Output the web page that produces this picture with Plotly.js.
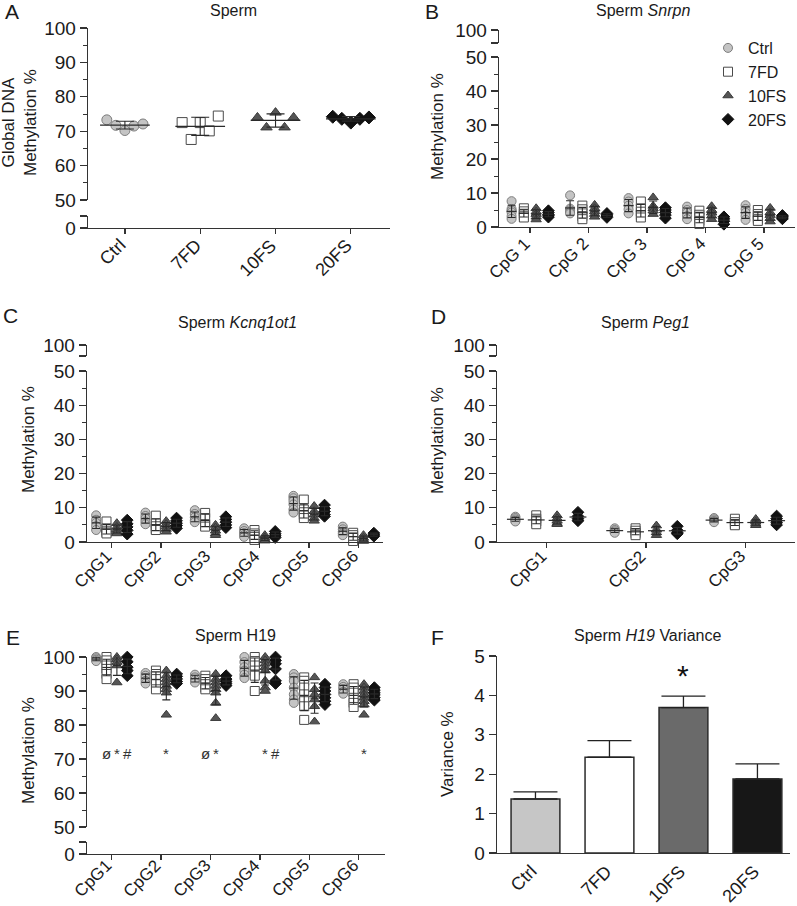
<!DOCTYPE html>
<html><head><meta charset="utf-8">
<script src="https://cdn.plot.ly/plotly-3.0.1.min.js"></script>
<style>html,body{margin:0;padding:0;background:#fff}#chart{width:797px;height:906px}</style>
</head><body><div id="chart"></div>
<script>
// ---------- DATA ----------
const groups = ['Ctrl', '7FD', '10FS', '20FS'];

// A: global DNA methylation (%)
const globalCtrl = [73.3, 71.7, 70.2, 71.5, 72.1];
const global7FD  = [72.5, 67.6, 72.5, 70.1, 74.4];
const global10FS = [74.0, 71.1, 75.4, 71.1, 74.0];
const global20FS = [74.2, 73.6, 72.5, 73.6, 74.0];

// B: Snrpn
const snrpnSites = ['CpG 1', 'CpG 2', 'CpG 3', 'CpG 4', 'CpG 5'];
const snrpnCtrl = [[7.6,5.3,4.8,4.3,3.2,2.4],[9.3,5.4,4.9,4.4,4.0],[8.5,7.5,6.3,5.2,4.0],[6.0,5.0,4.2,3.2,2.3],[6.4,5.3,4.2,3.2,2.1]];
const snrpn7FD  = [[5.5,4.6,3.9,3.3,2.8],[6.3,5.2,4.0,3.2,2.3],[7.5,5.5,4.5,3.5,2.8],[4.8,3.6,2.8,1.8,0.9],[5.0,3.8,3.0,2.4,1.8]];
const snrpn10FS = [[5.5,4.5,3.8,3.0,2.2],[6.5,5.5,4.6,3.8,3.0],[8.7,6.2,5.5,4.8,3.8],[6.1,5.0,4.2,3.3,2.3],[5.6,4.3,3.5,2.6,1.6]];
const snrpn20FS = [[4.8,4.2,3.7,3.3,2.9],[4.0,3.6,3.2,2.8],[5.7,5.0,4.3,3.5,2.6],[3.0,2.4,1.7,0.8],[3.4,3.0,2.7,2.4]];

// C: Kcnq1ot1
const kcnqSites = ['CpG1', 'CpG2', 'CpG3', 'CpG4', 'CpG5', 'CpG6'];
const kcnqCtrl = [[7.8,6.5,5.6,4.6,3.5],[8.6,7.6,6.8,6.0,5.2],[9.3,8.2,7.2,6.3,5.8],[4.0,3.2,2.6,2.0,1.5],[13.5,12.8,12.0,11.0,9.5,8.6],[4.5,3.7,3.0,2.5,2.0]];
const kcnq7FD  = [[6.0,4.0,3.3,2.8,2.5],[7.7,5.5,4.6,3.8,3.5],[8.5,7.0,5.2,4.5],[3.5,2.5,1.5,0.6],[12.4,9.5,8.7,7.9,7.0],[2.7,2.0,1.2,0.3]];
const kcnq10FS = [[5.5,4.4,3.6,3.0,2.5],[6.1,5.2,4.5,3.8,3.0],[5.0,4.2,3.3,2.5,2.0],[2.0,1.3,0.8,0.4],[10.5,9.0,8.0,7.0,6.2],[2.0,1.2,0.6,0.3]];
const kcnq20FS = [[6.4,5.3,4.4,3.4,2.3],[7.0,6.2,5.5,4.8,4.0],[7.4,6.6,5.8,5.0,4.2],[3.1,2.4,1.8,1.3],[10.8,9.8,8.9,8.0,7.5],[2.6,2.1,1.7]];

// D: Peg1
const pegSites = ['CpG1', 'CpG2', 'CpG3'];
const pegCtrl = [[7.4,7.0,6.6,6.2,6.0],[4.0,3.5,3.1,2.7],[7.0,6.6,6.2,5.8]];
const peg7FD  = [[7.8,6.8,6.0,5.2],[4.0,3.3,2.6,2.0],[6.8,5.8,5.2,4.9]];
const peg10FS = [[7.8,6.9,6.2,5.5,5.2],[4.8,3.6,2.8,2.0],[6.7,5.9,5.3,4.9]];
const peg20FS = [[8.7,7.5,6.8,6.2],[4.6,3.4,2.7,2.4],[7.6,6.8,6.2,5.6,5.0]];

// E: H19
const h19Sites = ['CpG1', 'CpG2', 'CpG3', 'CpG4', 'CpG5', 'CpG6'];
const h19Ctrl = [[100,99.6,99.2,98.8],[95.3,94.5,93.8,93.0,92.2],[94.8,94,93.2,92.5],[100,98.5,97,96,94.8,93.8],[95,94,93,91,89,87.5,86.5],[92,91.2,90.5,89.8,89.2]];
const h19_7FD = [[100,99,97.5,96.5,95,93.5],[96,95,93.5,92,90.5],[94.5,93.5,92,91,90.5],[100,98.8,97.5,96,94.5,90],[94,93,91,89,87,85.5,81.5],[92,91,89.5,88,86.5,85.3]];
const h19_10FS = [[100,99.3,98.5,97.5,92.5],[96,94.5,93.5,92.5,91.5,90.5,89.5,83],[95,93.5,92.5,91.5,90.5,89.5,86.5,82],[100,99,98,97,96,93,91,90],[94,90.5,89,87.5,85.5,81],[92,91,90,89,88,87,86,83]];
const h19_20FS = [[100,98.6,97,96,94.5],[95,94.3,93.5,92.8,92.2],[94.5,93.5,92.8,92.2,91.6],[100,99,98,96.5,93,92.2],[92,91,90,89,88,87,86],[91,90.2,89.5,88.8,88,87.3]];
// significance marks in E
const sigSite  = [0, 0, 0, 1, 2, 2, 3, 3, 5];
const sigGroup = ['7FD', '10FS', '20FS', '10FS', '7FD', '10FS', '10FS', '20FS', '10FS'];
const sigMark  = ['ø', '*', '#', '*', 'ø', '*', '*', '#', '*'];
const sigLevel = 71.5;

// F: H19 variance
const varMean = [1.37, 2.43, 3.69, 1.88];
const varErr  = [0.18, 0.42, 0.29, 0.38];
const varSig  = ['', '', '*', ''];

// ---------- STYLE ----------
const W = 797, H = 906;
const px = v => v / W, py = v => 1 - v / H;
const FONT = 'Liberation Sans, Arial, Helvetica, sans-serif';
const AX = '#333';
const TXT = '#1a1a1a';
const style = {
  'Ctrl': {symbol: 'circle', color: '#c4c4c4', line: '#7d7d7d'},
  '7FD':  {symbol: 'square', color: '#ffffff', line: '#4a4a4a'},
  '10FS': {symbol: 'triangle-up', color: '#555555', line: '#3a3a3a'},
  '20FS': {symbol: 'diamond', color: '#111111', line: '#111111'}
};
const barColors = ['#c6c6c6', '#ffffff', '#6a6a6a', '#171717'];
const offsets = [-0.315, -0.105, 0.105, 0.315];
const jitterA = [-0.24, -0.12, 0, 0.12, 0.24];

const mean = a => a.reduce((s, v) => s + v, 0) / a.length;
const sd = a => { const m = mean(a); return Math.sqrt(a.reduce((s, v) => s + (v - m) * (v - m), 0) / (a.length - 1)); };

const traces = [];

function markerOf(g, size) {
  const s = style[g];
  return {symbol: s.symbol, size: size, color: s.color, line: {color: s.line, width: 1}};
}

function meanTrace(xs, ys, sds, xa, ya, half, cap) {
  return {
    type: 'scatter', mode: 'markers', x: xs, y: ys, xaxis: xa, yaxis: ya,
    marker: {size: 1, color: 'rgba(0,0,0,0)'}, showlegend: false, hoverinfo: 'skip', cliponaxis: false,
    error_x: {type: 'constant', value: half, width: 0, thickness: 1.2, color: '#2a2a2a'},
    error_y: {type: 'data', array: sds, width: cap, thickness: 1.1, color: '#2a2a2a'}
  };
}

// Panel A
[globalCtrl, global7FD, global10FS, global20FS].forEach((vals, gi) => {
  const g = groups[gi];
  traces.push({
    type: 'scatter', mode: 'markers', xaxis: 'x', yaxis: 'y',
    x: vals.map((v, j) => gi + jitterA[j]), y: vals,
    marker: markerOf(g, 10), showlegend: false, cliponaxis: false, name: g
  });
});
[globalCtrl, global7FD, global10FS, global20FS].forEach((vals, gi) => {
  traces.push(meanTrace([gi], [mean(vals)], [sd(vals)], 'x', 'y', 0.33, 9));
});

// Site panels
function sitePanel(sets, xa, ya, legend, msize) {
  sets.forEach((perSite, gi) => {
    const g = groups[gi];
    const xs = [], ys = [];
    perSite.forEach((vals, si) => vals.forEach(v => { xs.push(si + offsets[gi]); ys.push(v); }));
    traces.push({
      type: 'scatter', mode: 'markers', xaxis: xa, yaxis: ya, x: xs, y: ys, name: g,
      marker: markerOf(g, msize), showlegend: legend, cliponaxis: false
    });
  });
  sets.forEach((perSite, gi) => {
    traces.push(meanTrace(perSite.map((_, si) => si + offsets[gi]), perSite.map(mean), perSite.map(sd), xa, ya, 0.085, 4));
  });
}
sitePanel([snrpnCtrl, snrpn7FD, snrpn10FS, snrpn20FS], 'x2', 'y3', true, 9);
sitePanel([kcnqCtrl, kcnq7FD, kcnq10FS, kcnq20FS], 'x3', 'y5', false, 9);
sitePanel([pegCtrl, peg7FD, peg10FS, peg20FS], 'x4', 'y7', false, 9);
sitePanel([h19Ctrl, h19_7FD, h19_10FS, h19_20FS], 'x5', 'y9', false, 9);

// Panel F
traces.push({
  type: 'bar', x: groups.map((_, i) => i), y: varMean, xaxis: 'x6', yaxis: 'y11', width: 0.66,
  marker: {color: barColors, line: {color: '#2b2b2b', width: 1.5}}, showlegend: false,
  error_y: {type: 'data', symmetric: false, array: varErr, arrayminus: varErr.map(() => 0), width: 22, thickness: 1.3, color: '#222'}
});

// empty placeholders so that the short broken-axis segments get registered
[['x', 'y2'], ['x2', 'y4'], ['x3', 'y6'], ['x4', 'y8'], ['x5', 'y10']].forEach(([xa, ya]) => {
  traces.push({type: 'scatter', mode: 'markers', x: [null], y: [null], xaxis: xa, yaxis: ya,
    marker: {size: 1, color: 'rgba(0,0,0,0)'}, showlegend: false, hoverinfo: 'skip'});
});

// ---------- AXES ----------
const YTICKF = {size: 19, color: TXT, family: FONT};
function xAxis(domain, range, labels, anchor, extra) {
  return Object.assign({
    domain: domain, range: range, anchor: anchor, tickmode: 'array',
    tickvals: labels.map((_, i) => i), ticktext: labels, showticklabels: false,
    showline: true, linecolor: AX, linewidth: 1.3, ticks: 'outside', ticklen: 5, tickcolor: AX, tickwidth: 1.3,
    zeroline: false, showgrid: false, fixedrange: true
  }, extra || {});
}
function yAxis(domain, range, anchor, extra) {
  return Object.assign({
    domain: domain, range: range, anchor: anchor,
    showline: true, linecolor: AX, linewidth: 1.3, ticks: 'outside', ticklen: 7, tickcolor: AX, tickwidth: 1.3,
    zeroline: false, showgrid: false, tickfont: YTICKF, fixedrange: true
  }, extra || {});
}
const minor5 = {ticks: 'outside', ticklen: 4, dtick: 5, tickcolor: AX, tickwidth: 1};
const linear = (t0, dt) => ({tickmode: 'linear', tick0: t0, dtick: dt});
const capLow = {tickmode: 'array', tickvals: [0, 5], ticktext: ['0', '']};
const capHigh = {tickmode: 'array', tickvals: [95, 100], ticktext: ['', '100']};

const layout = {
  width: W, height: H, autosize: false, margin: {l: 0, r: 0, t: 0, b: 0},
  paper_bgcolor: '#fff', plot_bgcolor: 'rgba(0,0,0,0)',
  font: {family: FONT, color: TXT, size: 16},
  // A
  xaxis:  xAxis([px(88), px(390)], [-0.49, 3.52], groups, 'y2'),
  yaxis:  yAxis([py(200), py(28)], [50, 100], 'x', Object.assign(linear(50, 10), {minor: minor5})),
  yaxis2: yAxis([py(228), py(216)], [0, 5], 'x', capLow),
  // B
  xaxis2: xAxis([px(499), px(795)], [-0.53, 4.53], snrpnSites, 'y3'),
  yaxis3: yAxis([py(227), py(57)], [0, 50], 'x2', Object.assign(linear(0, 10), {minor: minor5})),
  yaxis4: yAxis([py(43), py(30)], [95, 100], 'x2', capHigh),
  // C
  xaxis3: xAxis([px(87), px(383)], [-0.5, 5.5], kcnqSites, 'y5'),
  yaxis5: yAxis([py(542), py(371)], [0, 50], 'x3', Object.assign(linear(0, 10), {minor: minor5})),
  yaxis6: yAxis([py(356), py(345)], [95, 100], 'x3', capHigh),
  // D
  xaxis4: xAxis([px(497), px(795)], [-0.5, 2.5], pegSites, 'y7'),
  yaxis7: yAxis([py(542), py(371)], [0, 50], 'x4', Object.assign(linear(0, 10), {minor: minor5})),
  yaxis8: yAxis([py(356), py(345)], [95, 100], 'x4', capHigh),
  // E
  xaxis5: xAxis([px(87), px(385)], [-0.5, 5.53], h19Sites, 'y10'),
  yaxis9: yAxis([py(827), py(657)], [50, 100], 'x5', Object.assign(linear(50, 10), {minor: minor5})),
  yaxis10: yAxis([py(854), py(842)], [0, 5], 'x5', capLow),
  // F
  xaxis6: xAxis([px(497), px(790)], [-0.52, 3.44], groups, 'y11', {ticks: ''}),
  yaxis11: yAxis([py(853), py(656)], [0, 5], 'x6', linear(0, 1)),
  legend: {
    x: px(708), y: py(31), xanchor: 'left', yanchor: 'top', bgcolor: 'rgba(0,0,0,0)',
    font: {size: 16, color: TXT, family: FONT}, tracegroupgap: 0, itemclick: false
  },
  annotations: []
};

// rotated category labels placed at the axis ticks
function catLabels(xa, ya, labels, size, dx, dy) {
  labels.forEach((t, i) => {
    layout.annotations.push({
      text: t, x: i, xref: xa, y: 0, yref: ya + ' domain', xanchor: 'right', yanchor: 'top',
      textangle: -45, xshift: dx, yshift: -dy, borderpad: 0, showarrow: false,
      font: {size: size, color: TXT, family: FONT}
    });
  });
}
catLabels('x', 'y2', groups, 18, 6, 6);
catLabels('x2', 'y3', snrpnSites, 17, 5, 6);
catLabels('x3', 'y5', kcnqSites, 17, 5, 4);
catLabels('x4', 'y7', pegSites, 17, 5, 4);
catLabels('x5', 'y10', h19Sites, 17, 5, 1);
catLabels('x6', 'y11', groups, 18, 7, 7);

function note(text, x, y, size, extra) {
  layout.annotations.push(Object.assign({
    text: text, x: px(x), y: py(y), xref: 'paper', yref: 'paper', showarrow: false,
    xanchor: 'center', yanchor: 'middle', font: {size: size, color: TXT, family: FONT}
  }, extra || {}));
}
// panel letters
[['A', 12, 12], ['B', 432, 12], ['C', 10, 315], ['D', 438, 316], ['E', 13, 637], ['F', 437, 637]]
  .forEach(([t, x, y]) => note(t, x, y, 21));
// titles
note('Sperm', 233, 10, 16);
note('Sperm <i>Snrpn</i>', 643, 10, 16);
note('Sperm <i>Kcnq1ot1</i>', 237, 323, 16);
note('Sperm <i>Peg1</i>', 645, 323, 16);
note('Sperm H19', 235, 635, 16);
note('Sperm <i>H19</i> Variance', 647, 635, 16);
// y titles
note('Global DNA<br>Methylation %', 19, 123, 17, {textangle: -90});
note('Methylation %', 438, 127, 17, {textangle: -90});
note('Methylation %', 28, 440, 17, {textangle: -90});
note('Methylation %', 438, 441, 17, {textangle: -90});
note('Methylation %', 28, 751, 17, {textangle: -90});
note('Variance %', 447, 754, 17, {textangle: -90});
// significance marks (E)
sigMark.forEach((m, i) => {
  layout.annotations.push({
    text: m, x: sigSite[i] + offsets[groups.indexOf(sigGroup[i])], y: sigLevel, xref: 'x5', yref: 'y9',
    showarrow: false, font: {size: 15, color: '#333', family: FONT}
  });
});
// F star
varSig.forEach((m, i) => {
  if (!m) return;
  layout.annotations.push({
    text: m, x: i, y: varMean[i] + varErr[i], xref: 'x6', yref: 'y11', yanchor: 'bottom', yshift: 2,
    showarrow: false, font: {size: 30, color: '#111', family: FONT}
  });
});

Plotly.newPlot('chart', traces, layout, {displayModeBar: false, staticPlot: true});
</script>
</body></html>
